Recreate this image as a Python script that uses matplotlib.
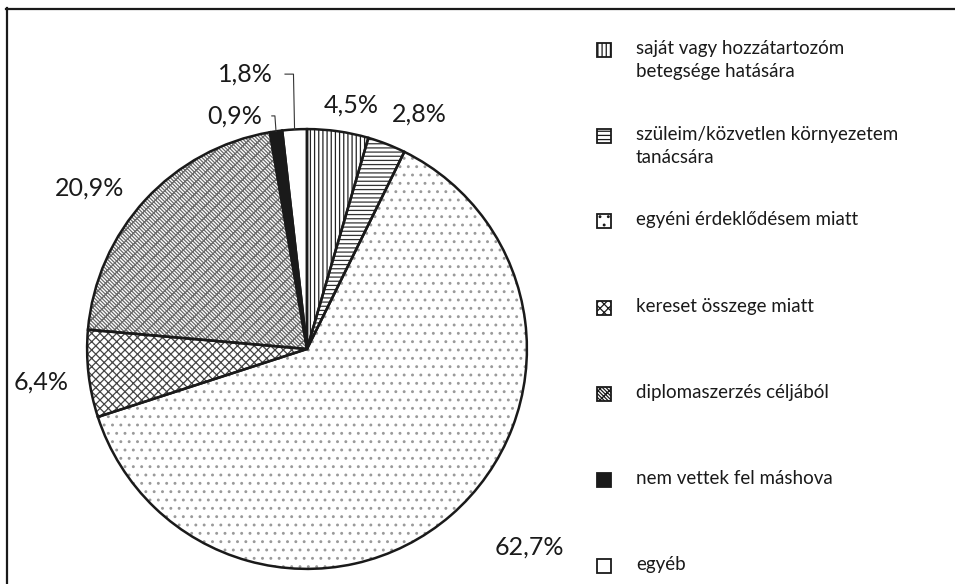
import matplotlib
matplotlib.use("Agg")
import matplotlib.pyplot as plt
import numpy as np
from matplotlib.patches import Rectangle
from matplotlib.lines import Line2D

categories = [
    "saját vagy hozzátartozóm\nbetegsége hatására",
    "szüleim/közvetlen környezetem\ntanácsára",
    "egyéni érdeklődésem miatt",
    "kereset összege miatt",
    "diplomaszerzés céljából",
    "nem vettek fel máshova",
    "egyéb",
]
values = [4.5, 2.8, 62.7, 6.4, 20.9, 0.9, 1.8]
pct_labels = ["4,5%", "2,8%", "62,7%", "6,4%", "20,9%", "0,9%", "1,8%"]

# styles per slice
hatches = ["||||", "----", "..", "xxxx", "\\" * 6 + "xxx", None, None]
hatch_cols = ["#222222", "#333333", "#9a9a9a", "#444444", "#6a6a6a", "#1a1a1a", "#1a1a1a"]
faces = ["white", "white", "white", "white", "white", "#1a1a1a", "white"]

plt.rcParams["font.family"] = ["Lato", "DejaVu Sans"]
plt.rcParams["hatch.linewidth"] = 0.9

W, H = 955, 584
fig = plt.figure(figsize=(W / 100, H / 100), dpi=100)

# pie area: center (307, 349) px, radius 221 px
cx, cy, R = 307, 349, 221
ax = fig.add_axes([(cx - R) / W, (H - cy - R) / H, 2 * R / W, 2 * R / H])

wedges, _ = ax.pie(values, startangle=90, counterclock=False, radius=1,
                   wedgeprops=dict(linewidth=0))
for w, h, hc, fc in zip(wedges, hatches, hatch_cols, faces):
    w.set_facecolor(fc)
    w.set_edgecolor(hc)
    w.set_linewidth(0)
    if h:
        w.set_hatch(h)

# outlines on top
outl, _ = ax.pie(values, startangle=90, counterclock=False, radius=1,
                 wedgeprops=dict(fill=False, edgecolor="#1a1a1a", linewidth=1.8))

ax.set_xlim(-1.005, 1.005)
ax.set_ylim(-1.005, 1.005)
ax.set_aspect("equal")
ax.axis("off")

# percentage labels, placed in data coords (pie radius = 1)
label_xy = [(0.20, 1.11), (0.51, 1.07), (1.01, -0.90), (-1.21, -0.15),
            (-0.99, 0.73), (-0.33, 1.06), (-0.28, 1.25)]
for i, (txt, (lx, ly)) in enumerate(zip(pct_labels, label_xy)):
    ax.text(lx, ly, txt, ha="center", va="center", fontsize=18, color="#1a1a1a")

# leader lines for the two small slices
for i, (lx, ly), off in [(5, label_xy[5], 0.17), (6, label_xy[6], 0.18)]:
    w = wedges[i]
    ang = np.deg2rad((w.theta1 + w.theta2) / 2)
    ex, ey = np.cos(ang), np.sin(ang)
    ax.plot([lx + off, ex - 0.005, ex], [ly, ly, ey], color="#333333", lw=0.8,
            clip_on=False)

# legend
first_line_y = [50, 136, 221, 308, 394, 480, 566]
for i, (cat, y) in enumerate(zip(categories, first_line_y)):
    fy = 1 - y / H
    r = Rectangle((597 / W, fy - 7 / H), 14 / W, 14 / H, transform=fig.transFigure,
                  facecolor=faces[i], edgecolor="#1a1a1a", linewidth=1.3,
                  hatch=hatches[i])
    fig.patches.append(r)
    fig.text(636 / W, fy + 10 / H, cat, ha="left", va="top", fontsize=13.5,
             linespacing=1.4, color="#1a1a1a")

# frame (left and top edges visible)
fig.add_artist(Line2D([6.5 / W, 6.5 / W], [0, 1 - 8 / H], transform=fig.transFigure,
                      color="#1a1a1a", lw=1.6))
fig.add_artist(Line2D([6 / W, 1], [1 - 8.5 / H, 1 - 8.5 / H], transform=fig.transFigure,
                      color="#1a1a1a", lw=1.6))

fig.savefig("out.png", dpi=100)
